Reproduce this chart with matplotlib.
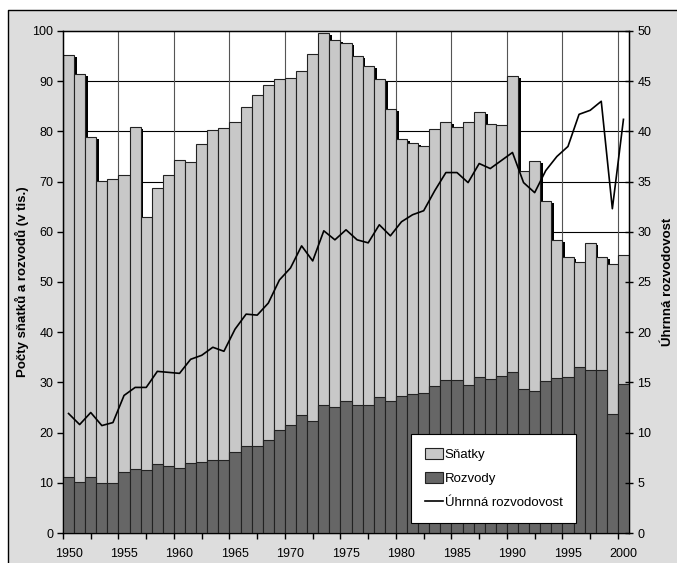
import matplotlib.pyplot as plt
import numpy as np
from matplotlib.patches import Rectangle, Patch
from matplotlib.lines import Line2D

plt.rcParams['font.family'] = ['Liberation Sans', 'DejaVu Sans']

# data
roky = np.arange(1950, 2001)
snatky = [95.3, 91.4, 78.8, 70.1, 70.6, 71.4, 80.8, 62.9, 68.8, 71.4,
          74.3, 73.9, 77.4, 80.2, 80.6, 81.8, 84.9, 87.3, 89.3, 90.5,
          90.7, 92.0, 95.5, 99.7, 98.2, 97.6, 95.0, 93.0, 90.5, 84.5,
          78.4, 77.6, 77.1, 80.5, 81.8, 80.8, 81.8, 83.8, 81.5, 81.3,
          91.0, 72.1, 74.1, 66.1, 58.4, 55.0, 53.9, 57.8, 55.0, 53.5,
          55.3]
rozvody = [11.2, 10.2, 11.2, 10.0, 10.0, 12.2, 12.8, 12.6, 13.7, 13.3,
           13.0, 13.9, 14.2, 14.6, 14.5, 16.2, 17.4, 17.4, 18.6, 20.5,
           21.5, 23.6, 22.4, 25.4, 25.1, 26.2, 25.5, 25.5, 27.1, 26.2,
           27.2, 27.7, 27.8, 29.3, 30.5, 30.5, 29.5, 31.1, 30.7, 31.3,
           32.1, 28.6, 28.2, 30.2, 30.9, 31.1, 33.1, 32.5, 32.4, 23.7,
           29.7]
rozvodovost = [11.9, 10.8, 12.0, 10.7, 11.0, 13.7, 14.5, 14.5, 16.1, 16.0,
               15.9, 17.3, 17.7, 18.5, 18.1, 20.3, 21.8, 21.7, 22.9, 25.2,
               26.4, 28.6, 27.1, 30.1, 29.2, 30.2, 29.2, 28.9, 30.7, 29.6,
               31.0, 31.7, 32.1, 34.1, 35.9, 35.9, 34.9, 36.8, 36.3, 37.1,
               37.9, 34.9, 33.9, 36.1, 37.5, 38.5, 41.7, 42.1, 43.0, 32.3,
               41.2]
popisky_let = [1950, 1955, 1960, 1965, 1970, 1975, 1980, 1985, 1990, 1995, 2000]

fig = plt.figure(figsize=(6.77, 5.63), dpi=100)
fig.patch.set_facecolor('white')
# seda plocha grafu (Excel)
x0, y0 = 8 / 677, 1 - 10 / 563
fig.patches.append(Rectangle((x0, 0), 1 - x0, y0, transform=fig.transFigure,
                             facecolor='#dddddd', edgecolor='none', zorder=-5))
fig.lines.append(Line2D([x0, x0, 1], [0, y0, y0], transform=fig.transFigure,
                        color='black', linewidth=1, zorder=-4))

ax = fig.add_axes([63 / 677, 1 - 533 / 563, 566 / 677, 502 / 563])
ax.set_facecolor('white')

# mrizka
for y in range(10, 100, 10):
    ax.axhline(y, color='black', linewidth=0.8, zorder=1)
for x in np.arange(1954.5, 2000, 5):
    ax.axvline(x, color='#555555', linewidth=0.8, zorder=1)

# stin sloupcu
ax.bar(roky + 0.25, np.array(snatky) - 0.4, width=1, color='black', zorder=1.5)
ax.bar(roky, snatky, width=1, color='#c8c8c8', edgecolor='#222222',
       linewidth=0.8, zorder=2)
ax.bar(roky, rozvody, width=1, color='#666666', edgecolor='#222222',
       linewidth=0.8, zorder=3)

ax.set_xlim(1949.5, 2000.5)
ax.set_ylim(0, 100)
ax.set_yticks(range(0, 101, 10))
ax.set_xticks(popisky_let)
ax.set_xticks(np.arange(1949.5, 2001, 2.5), minor=True)
ax.tick_params(axis='x', which='major', length=0, pad=11, labelsize=9)
ax.tick_params(axis='x', which='minor', length=4, direction='out', width=1)
ax.tick_params(axis='y', length=4, direction='out', width=1, pad=3, labelsize=9)
for s in ax.spines.values():
    s.set_linewidth(1)
ax.set_ylabel('Počty sňatků a rozvodů (v tis.)', fontsize=9.5,
              fontweight='bold', labelpad=2)

ax2 = ax.twinx()
ax2.plot(roky, rozvodovost, color='black', linewidth=1.2, zorder=4)
ax2.set_ylim(0, 50)
ax2.set_yticks(range(0, 51, 5))
ax2.tick_params(axis='y', length=6, direction='inout', width=1, pad=3, labelsize=9)
ax2.set_ylabel('Úhrnná rozvodovost', fontsize=9.5, fontweight='bold',
               rotation=90, labelpad=8)

handles = [Patch(facecolor='#c8c8c8', edgecolor='#222222', linewidth=0.8),
           Patch(facecolor='#666666', edgecolor='#222222', linewidth=0.8),
           Line2D([], [], color='black', linewidth=1.2)]
leg = ax2.legend(handles, ['Sňatky', 'Rozvody', 'Úhrnná rozvodovost'],
                 loc='upper left', bbox_to_anchor=(411 / 677, 1 - 434 / 563),
                 bbox_transform=fig.transFigure, fancybox=False, fontsize=9.5,
                 framealpha=1, edgecolor='black', handlelength=1.35,
                 handleheight=0.9, handletextpad=0.15, labelspacing=0.85,
                 borderpad=1.05, borderaxespad=0)
leg.get_frame().set_linewidth(0.8)
leg.set_zorder(10)

fig.savefig('out.png', dpi=100)
